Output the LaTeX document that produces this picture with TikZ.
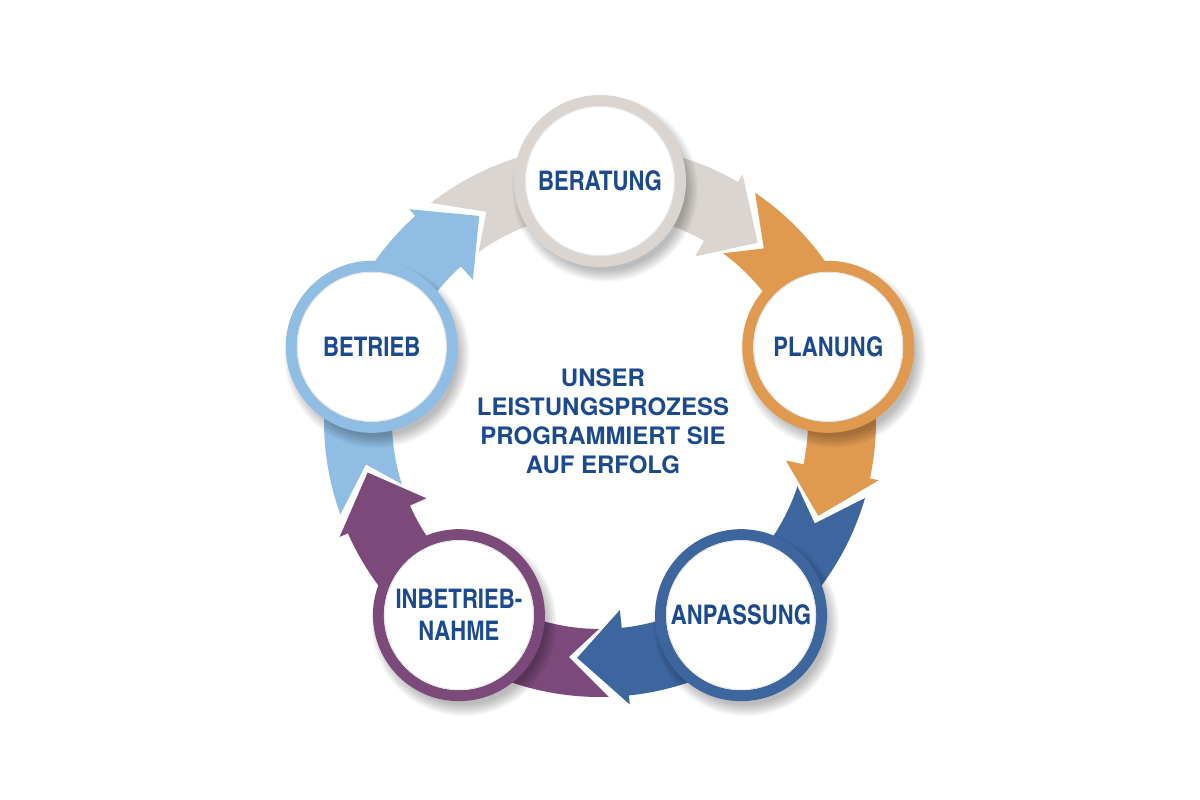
\documentclass[tikz,border=0pt]{standalone}
\usepackage{fontspec}
\setmainfont{TeX Gyre Heros}
\newfontfamily\condfont{TeX Gyre Heros Cn}

\definecolor{textblue}{HTML}{1B4A8E}
\definecolor{stepgray}{HTML}{DAD5D0}
\definecolor{steporange}{HTML}{E09A50}
\definecolor{stepblue}{HTML}{3D659E}
\definecolor{steppurple}{HTML}{7B4A7B}
\definecolor{steplight}{HTML}{8FBDE3}

\tikzset{
  stepcircle/.style={circle, draw=#1, fill=white, line width=11pt,
    minimum size=161pt, inner sep=0pt, text=textblue, align=center,
    font=\condfont\bfseries\fontsize{27}{32}\selectfont},
  ringshadow/.style={fill=black, opacity=0.035},
  centertext/.style={text=textblue, align=center,
    font=\bfseries\fontsize{24}{29}\selectfont},
}

\begin{document}
\begin{tikzpicture}[x=1pt,y=1pt]
  \useasboundingbox (-600,-379) rectangle (600,421);
  \fill[white] (-600,-379) rectangle (600,421);

  % arrows round the cycle
  \foreach \a/\col in {90/stepgray,18/steporange,-54/stepblue,-126/steppurple,-198/steplight}
    \fill[\col] ({\a+37.8}:276) arc[start angle=\a+37.8, end angle=\a-30, radius=276]
      -- ({\a-30}:285) -- ({\a-41.5}:238) -- ({\a-30}:190) -- ({\a-30}:208)
      arc[start angle=\a-30, end angle=\a+35.7, radius=208]
      -- ({\a+28.5}:238) -- cycle;

  % soft shadows
  \foreach \a in {90,18,-54,-126,-198}
    \foreach \s in {1,...,8}
      \fill[ringshadow, shift={(5,-8)}] (\a:240) circle[radius=80+\s*1.6];

  \node[stepcircle=stepgray]   (beratung)  at (90:240)   {BERATUNG};
  \node[stepcircle=steporange] (planung)   at (18:240)   {PLANUNG};
  \node[stepcircle=stepblue]   (anpassung) at (-54:240)  {ANPASSUNG};
  \node[stepcircle=steppurple] (inbetrieb) at (-126:240) {INBETRIEB-\\NAHME};
  \node[stepcircle=steplight]  (betrieb)   at (162:240)  {BETRIEB};

  \foreach \n in {beratung,planung,anpassung,inbetrieb,betrieb}
    \draw[black!10, line width=1pt] (\n.center) circle[radius=74.5];

  \node[centertext] (motto) at (3,0) {UNSER\\LEISTUNGSPROZESS\\PROGRAMMIERT SIE\\AUF ERFOLG};
\end{tikzpicture}
\end{document}
